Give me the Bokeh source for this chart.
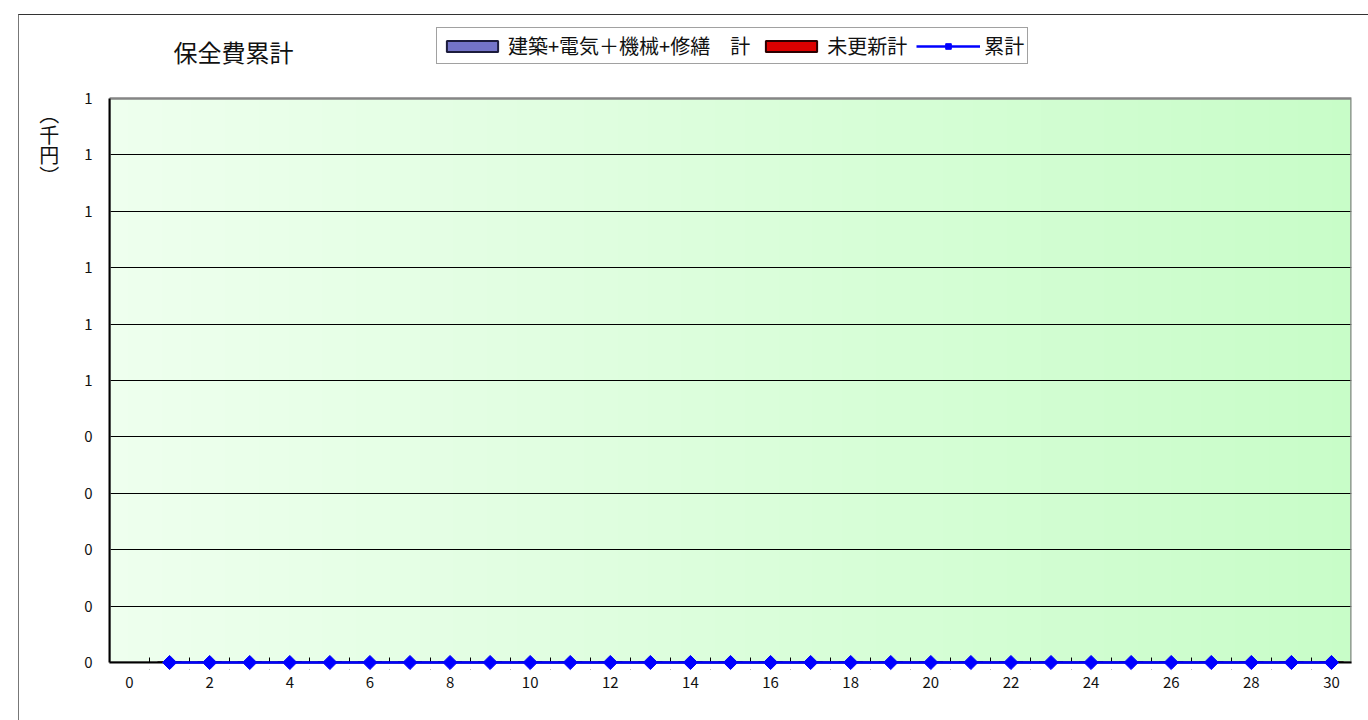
import numpy as np
from bokeh.plotting import figure
from bokeh.models import (Range1d, FixedTicker, BoxAnnotation, Legend,
                          LegendItem, ColumnDataSource, InlineStyleSheet, Label)
from bokeh.embed import file_html
from bokeh.resources import INLINE

# ---------------- data ----------------
title_text = "保全費累計"
y_unit_text = "︵\n千\n円\n︶"
bar1_name = "建築+電気＋機械+修繕\u3000計"
bar2_name = "未更新計"
line_name = "累計"

years = [1, 2, 3, 4, 5, 6, 7, 8, 9, 10, 11, 12, 13, 14, 15,
         16, 17, 18, 19, 20, 21, 22, 23, 24, 25, 26, 27, 28, 29, 30]
building_total = [0, 0, 0, 0, 0, 0, 0, 0, 0, 0, 0, 0, 0, 0, 0,
                  0, 0, 0, 0, 0, 0, 0, 0, 0, 0, 0, 0, 0, 0, 0]
unrenewed_total = [0, 0, 0, 0, 0, 0, 0, 0, 0, 0, 0, 0, 0, 0, 0,
                   0, 0, 0, 0, 0, 0, 0, 0, 0, 0, 0, 0, 0, 0, 0]
cumulative = [0, 0, 0, 0, 0, 0, 0, 0, 0, 0, 0, 0, 0, 0, 0,
              0, 0, 0, 0, 0, 0, 0, 0, 0, 0, 0, 0, 0, 0, 0]

x_tick_values = [0, 2, 4, 6, 8, 10, 12, 14, 16, 18, 20, 22, 24, 26, 28, 30]
x_tick_labels = ["0", "2", "4", "6", "8", "10", "12", "14", "16", "18",
                 "20", "22", "24", "26", "28", "30"]
x_minor_ticks = [0.5, 1.5, 2.5, 3.5, 4.5, 5.5, 6.5, 7.5, 8.5, 9.5, 10.5,
                 11.5, 12.5, 13.5, 14.5, 15.5, 16.5, 17.5, 18.5, 19.5, 20.5,
                 21.5, 22.5, 23.5, 24.5, 25.5, 26.5, 27.5, 28.5, 29.5]
x_lo, x_hi = -0.5, 30.5
y_tick_values = [0, 0.1, 0.2, 0.3, 0.4, 0.5, 0.6, 0.7, 0.8, 0.9, 1.0]
y_tick_labels = ["0", "0", "0", "0", "0", "1", "1", "1", "1", "1", "1"]
y_min, y_max = 0, 1

# ---------------- styles / layout (pixels) ----------------
FONT = "Noto Sans CJK JP"
BG_LEFT = (0xEE, 0xFF, 0xEE)
BG_RIGHT = (0xC8, 0xFD, 0xC8)
PLOT_H = 564.0          # height of the 0..1 value band
PAD_BELOW = 7.0         # room under the zero line so markers are whole
PAD_ABOVE = 98.0        # room above the value band for title and legend
FRAME_BOTTOM = 669      # canvas y of the frame bottom
UNIT_LABEL_SHIFT = 14   # blank lines that push the unit label down

span_ = y_max - y_min
p = figure(width=1368, height=720, title=None,
           x_range=Range1d(x_lo, x_hi),
           y_range=Range1d(y_min - PAD_BELOW / PLOT_H * span_,
                           y_max + PAD_ABOVE / PLOT_H * span_),
           output_backend="svg", toolbar_location=None,
           min_border_left=109, min_border_right=17,
           min_border_top=0, min_border_bottom=720 - FRAME_BOTTOM)
p.background_fill_color = "white"
p.border_fill_color = "white"
p.outline_line_color = None
p.stylesheets = [InlineStyleSheet(css=(
    ":host::after {content: ''; position: absolute; left: 18px; top: 14px;"
    " right: 0; bottom: 0; border-left: 1px solid #777;"
    " border-top: 1px solid #333; pointer-events: none;}"))]

# gradient background of plot area
n = 256
t = np.linspace(0.0, 1.0, n)
img = np.empty((1, n), dtype=np.uint32)
view = img.view(dtype=np.uint8).reshape((1, n, 4))
for i, c in enumerate(zip(BG_LEFT, BG_RIGHT)):
    view[0, :, i] = np.round(c[0] + (c[1] - c[0]) * t).astype(np.uint8)
view[0, :, 3] = 255
p.image_rgba(image=[img], x=x_lo, y=y_min, dw=x_hi - x_lo,
             dh=y_max - y_min, level="image")

p.xgrid.visible = False
p.ygrid.ticker = FixedTicker(ticks=y_tick_values[1:-1])
p.ygrid.bounds = (x_lo, x_hi)
p.ygrid.grid_line_color = "black"
p.ygrid.grid_line_width = 1

# plot-area border (top / right grey)
p.add_layout(BoxAnnotation(left=x_lo, right=x_hi, bottom=y_min, top=y_max,
                           fill_alpha=0, line_color="#858585", line_alpha=1,
                           line_width=2.5, level="underlay"))

src = ColumnDataSource(dict(year=years, b1=building_total,
                            b2=unrenewed_total, cum=cumulative))
r_b1 = p.vbar(x="year", top="b1", width=0.6, source=src,
              fill_color="#7474C8", line_color="#1C1C3C", line_width=2)
r_b2 = p.vbar(x="year", top="b2", width=0.6, source=src,
              fill_color="#DC0000", line_color="#2A0000", line_width=2)

# white strip below zero (hides tick stubs) and the category axis line
p.quad(left=x_lo, right=x_hi, bottom=p.y_range.start, top=y_min,
       fill_color="white", line_color=None, level="overlay")
p.hspan(y=[y_min], line_color="black", line_width=2, level="overlay")

r_line = p.line(x="year", y="cum", source=src, line_color="#0000FF",
                line_width=2.5, level="overlay")
r_pts = p.scatter(x="year", y="cum", source=src, marker="square",
                  angle=np.pi / 4, size=10, fill_color="#0000FF",
                  line_color="#0000FF", level="overlay")

# axes
xa = p.xaxis[0]
xa.ticker = FixedTicker(ticks=x_tick_values, minor_ticks=x_minor_ticks)
xa.major_label_overrides = {v: s for v, s in zip(x_tick_values, x_tick_labels)}
xa.major_tick_in = 0
xa.major_tick_out = 0
xa.minor_tick_in = 12
xa.minor_tick_out = 0
xa.minor_tick_line_color = "black"
xa.axis_line_color = None
xa.major_label_text_font = FONT
xa.major_label_text_font_size = "15px"
xa.major_label_text_color = "#111111"
xa.major_label_standoff = 7

ya = p.yaxis[0]
ya.ticker = FixedTicker(ticks=y_tick_values)
ya.bounds = (y_min, y_max)
ya.major_label_overrides = {v: s for v, s in zip(y_tick_values, y_tick_labels)}
ya.major_tick_in = 0
ya.major_tick_out = 0
ya.minor_tick_line_color = None
ya.axis_line_color = "black"
ya.axis_line_width = 2
ya.major_label_text_font = FONT
ya.major_label_text_font_size = "15px"
ya.major_label_text_color = "#111111"
ya.major_label_standoff = 17
ya.axis_label = "\n" * UNIT_LABEL_SHIFT + y_unit_text
ya.axis_label_orientation = "horizontal"
ya.axis_label_align = "end"
ya.axis_label_text_font = FONT
ya.axis_label_text_font_size = "20px"
ya.axis_label_text_font_style = "normal"
ya.axis_label_text_color = "#111111"
ya.axis_label_text_line_height = 0.71
ya.axis_label_standoff = 22

# chart title
p.add_layout(Label(x=64, y=FRAME_BOTTOM - 50.5, x_units="screen",
                   y_units="screen", text=title_text, text_font=FONT,
                   text_font_size="24px", text_baseline="middle",
                   text_align="left", text_color="#111111"))

legend = Legend(items=[LegendItem(label=bar1_name, renderers=[r_b1]),
                       LegendItem(label=bar2_name, renderers=[r_b2]),
                       LegendItem(label=line_name, renderers=[r_line, r_pts])],
                orientation="horizontal",
                location=(436 - 109, FRAME_BOTTOM - 64))
legend.label_text_font = FONT
legend.label_text_font_size = "20px"
legend.label_text_color = "#111111"
legend.glyph_width = 64
legend.glyph_height = 14
legend.label_height = 27
legend.label_standoff = 4
legend.spacing = 9
legend.padding = 3
legend.margin = 0
legend.border_line_color = "#444444"
legend.border_line_width = 1
legend.background_fill_color = "white"
legend.background_fill_alpha = 1
p.add_layout(legend, "center")

open("out.html", "w").write(file_html(p, INLINE))
